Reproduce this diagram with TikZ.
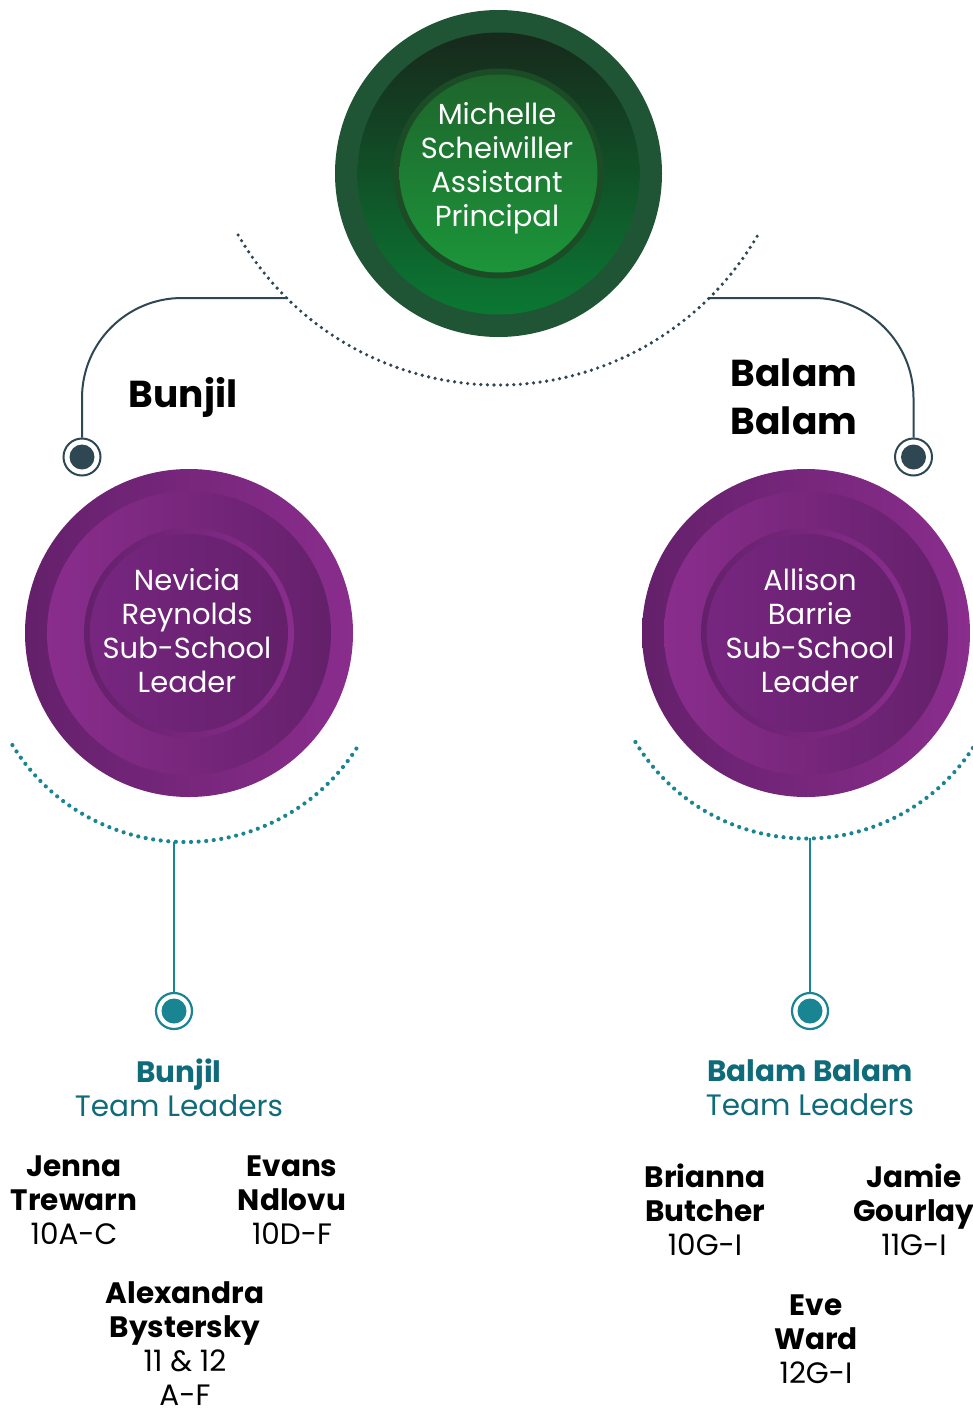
\documentclass[tikz,border=0pt]{standalone}
\usepackage{fontspec}
\setmainfont{Poppins}

\definecolor{apring}{HTML}{1F5535}
\definecolor{apdark}{HTML}{17291C}
\definecolor{apmid}{HTML}{0B7833}
\definecolor{apline}{HTML}{1C4C25}
\definecolor{aptop}{HTML}{1E652C}
\definecolor{apbot}{HTML}{1C953A}
\definecolor{pudark}{HTML}{64206B}
\definecolor{pulight}{HTML}{8A2D8D}
\definecolor{pumid}{HTML}{772680}
\definecolor{slate}{HTML}{2E4753}
\definecolor{tealdot}{HTML}{1A8592}
\definecolor{tealtxt}{HTML}{0F6B7A}

\tikzset{
  circtext/.style={text=white, align=center, font=\fontsize{29}{34}\selectfont},
  slatedots/.style={draw=slate, line width=3.6pt, line cap=round, dash pattern=on 0pt off 6.6pt},
  tealdots/.style={draw=tealdot, line width=4.2pt, line cap=round, dash pattern=on 0pt off 7.6pt},
  slateend/.style={circle, draw=slate, line width=2pt, minimum size=37pt, inner sep=0pt,
    path picture={\fill[slate] (path picture bounding box.center) circle (12.5pt);}},
  tealend/.style={circle, draw=tealdot, line width=2.2pt, minimum size=36pt, inner sep=0pt,
    path picture={\fill[tealdot] (path picture bounding box.center) circle (12.5pt);}},
  house/.style={font=\fontsize{37.5}{48}\selectfont\bfseries, align=center},
  teamhead/.style={text=tealtxt, align=center, font=\fontsize{29.5}{34}\selectfont},
  leader/.style={align=center, font=\fontsize{29.5}{34}\selectfont},
}

\begin{document}
\begin{tikzpicture}[x=1pt,y=-1pt]
	\useasboundingbox[fill=white] (0,0) rectangle (972,1410);

	% Kreis oben
	\node[circle, fill=apring, minimum size=327pt, inner sep=0pt] (ap) at (498.5,173.5) {};
	\shade[top color=apdark, bottom color=apmid] (ap.center) circle[radius=141];
	\fill[apline] (ap.center) circle[radius=105];
	\shade[top color=aptop, bottom color=apbot] (ap.center) circle[radius=99];
	\node[circtext] (aptext) at (497,168) {Michelle\\Scheiwiller\\Assistant\\Principal};

	% Bogen unter dem oberen Kreis
	\coordinate (apc) at (498,85);
	\draw[slatedots] (apc) ++(150:300) arc[start angle=150, end angle=30, radius=300];

	% Kreise links und rechts
	\node[circle, left color=pudark, right color=pulight, minimum size=328pt, inner sep=0pt] (bj) at (189,633) {};
	\shade[left color=pulight, right color=pudark] (bj.center) circle[radius=142];
	\shade[left color=pudark, right color=pulight] (bj.center) circle[radius=105];
	\shade[left color=pumid, right color=pudark] (bj.center) circle[radius=99];
	\node[circtext] (bjtext) at (187,631) {Nevicia\\Reynolds\\Sub-School\\Leader};

	\node[circle, left color=pudark, right color=pulight, minimum size=328pt, inner sep=0pt] (bb) at (806,633) {};
	\shade[left color=pulight, right color=pudark] (bb.center) circle[radius=142];
	\shade[left color=pudark, right color=pulight] (bb.center) circle[radius=105];
	\shade[left color=pumid, right color=pudark] (bb.center) circle[radius=99];
	\node[circtext] (bbtext) at (810,631) {Allison\\Barrie\\Sub-School\\Leader};

	% Verbindungen nach unten
	\coordinate (bjhook) at (288,298);
	\coordinate (bbhook) at (708,298);
	\node[slateend] (bjend) at (82,457) {};
	\node[slateend] (bbend) at (913.5,457) {};
	\draw[slate, line width=2pt, rounded corners=100pt] (bjhook) -| (bjend.north);
	\draw[slate, line width=2pt, rounded corners=100pt] (bbhook) -| (bbend.north);

	\node[house] (bjname) at (183,397) {Bunjil};
	\node[house] (bbname) at (794,397) {Balam\\Balam};

	% Boegen unter den Kreisen
	\coordinate (bjc) at (185.5,639);
	\coordinate (bbc) at (806,639.5);
	\draw[tealdots] (bjc) ++(148.5:203) arc[start angle=148.5, end angle=31.5, radius=203];
	\draw[tealdots] (bbc) ++(149:199) arc[start angle=149, end angle=28, radius=199];

	\coordinate (bjlow) at (174,842);
	\coordinate (bblow) at (810,838);
	\node[tealend] (bjteam) at (174,1011) {};
	\node[tealend] (bbteam) at (810,1011) {};
	\draw[tealdot, line width=2pt] (bjlow) -- (bjteam.north);
	\draw[tealdot, line width=2pt] (bblow) -- (bbteam.north);

	% Teamleiter
	\node[teamhead] (bjhead) at (179,1088) {\textbf{Bunjil}\\Team Leaders};
	\node[teamhead] (bbhead) at (810,1088) {\textbf{Balam Balam}\\Team Leaders};

	\node[leader] (jenna) at (74,1200) {\textbf{Jenna}\\\textbf{Trewarn}\\10A-C};
	\node[leader] (evans) at (292,1200) {\textbf{Evans}\\\textbf{Ndlovu}\\10D-F};
	\node[leader] (alex) at (185,1344) {\textbf{Alexandra}\\\textbf{Bystersky}\\11 \& 12\\A-F};

	\node[leader] (brianna) at (705,1210) {\textbf{Brianna}\\\textbf{Butcher}\\10G-I};
	\node[leader] (jamie) at (914,1210) {\textbf{Jamie}\\\textbf{Gourlay}\\11G-I};
	\node[leader] (eve) at (816,1339) {\textbf{Eve}\\\textbf{Ward}\\12G-I};
\end{tikzpicture}
\end{document}
